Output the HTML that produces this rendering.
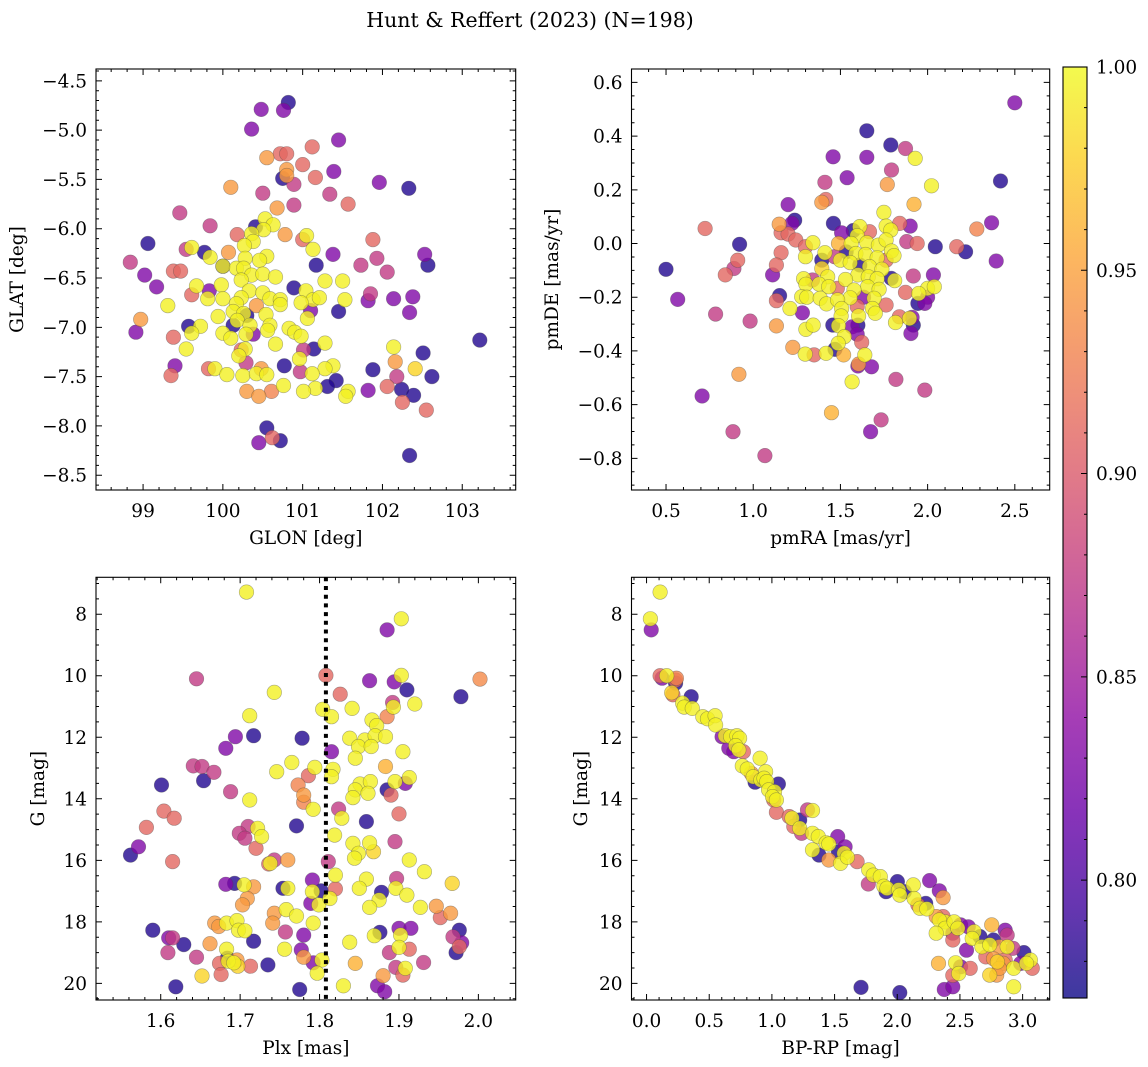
<!DOCTYPE html>
<html><head><meta charset="utf-8"><style>
html,body{margin:0;padding:0;background:#fff;}
svg{display:block;font-family:"DejaVu Serif","Liberation Serif",serif;}
</style></head><body>
<svg id="fig" width="1148" height="1067" viewBox="0 0 1148 1067" xmlns="http://www.w3.org/2000/svg">
<text x="530" y="27" text-anchor="middle" font-size="20.5">Hunt &amp; Reffert (2023) (N=198)</text>
</svg>
<script>
// probability codes: .78 dark blue, .83 purple, .875 magenta, .91 pink, .945 orange, .995 yellow
const skyPoints=[[100.82,-4.72,.78],[100.48,-4.79,.83],[100.76,-4.80,.83],[100.36,-4.99,.83],[101.12,-5.17,.91],[101.45,-5.10,.83],[100.72,-5.24,.91],[100.80,-5.24,.91],[100.55,-5.28,.945],[101.0,-5.35,.91],[100.80,-5.40,.945],[100.80,-5.46,.945],[100.75,-5.49,.78],[101.16,-5.48,.91],[101.39,-5.42,.83],[100.89,-5.55,.875],[101.96,-5.53,.83],[102.33,-5.59,.78],[100.10,-5.58,.945],[100.50,-5.64,.875],[101.34,-5.65,.875],[101.57,-5.75,.91],[100.89,-5.76,.875],[100.68,-5.79,.945],[99.46,-5.84,.875],[99.84,-5.97,.875],[100.53,-5.90,.995],[100.63,-5.96,.995],[100.41,-5.98,.78],[100.51,-6.01,.995],[100.36,-6.05,.995],[100.18,-6.06,.91],[100.78,-6.06,.945],[101.05,-6.07,.995],[101.0,-6.11,.91],[101.88,-6.11,.91],[99.06,-6.15,.78],[100.38,-6.13,.995],[99.61,-6.19,.995],[99.54,-6.21,.875],[100.27,-6.17,.995],[101.13,-6.21,.995],[99.77,-6.24,.78],[100.07,-6.24,.945],[101.38,-6.26,.83],[102.53,-6.26,.83],[99.84,-6.29,.995],[100.28,-6.30,.995],[100.55,-6.28,.995],[100.46,-6.32,.995],[101.93,-6.30,.875],[98.84,-6.34,.875],[100.0,-6.38,.78],[100.0,-6.38,.995],[101.17,-6.37,.78],[101.73,-6.37,.875],[102.57,-6.37,.78],[100.17,-6.40,.995],[100.26,-6.40,.995],[99.38,-6.43,.91],[99.47,-6.43,.91],[102.06,-6.44,.875],[99.02,-6.47,.83],[100.36,-6.47,.995],[100.50,-6.46,.995],[100.66,-6.49,.995],[100.23,-6.52,.995],[101.28,-6.53,.995],[101.50,-6.53,.995],[99.17,-6.59,.83],[99.67,-6.58,.995],[99.98,-6.57,.995],[100.89,-6.60,.78],[100.33,-6.63,.995],[100.50,-6.65,.995],[101.04,-6.63,.995],[99.61,-6.67,.91],[99.83,-6.63,.83],[99.81,-6.71,.995],[100.0,-6.71,.995],[100.23,-6.70,.995],[100.59,-6.71,.995],[100.72,-6.72,.995],[101.13,-6.72,.995],[101.21,-6.70,.995],[101.53,-6.72,.995],[101.82,-6.73,.83],[101.85,-6.66,.875],[102.14,-6.71,.83],[102.38,-6.69,.83],[99.31,-6.78,.995],[100.17,-6.76,.995],[100.42,-6.78,.945],[100.98,-6.75,.995],[100.72,-6.77,.995],[101.10,-6.83,.83],[101.45,-6.84,.78],[102.34,-6.85,.83],[100.13,-6.84,.995],[100.30,-6.88,.78],[100.26,-6.86,.995],[100.54,-6.87,.995],[99.94,-6.89,.995],[101.06,-6.91,.995],[100.18,-6.93,.995],[98.97,-6.92,.945],[100.59,-6.98,.995],[100.13,-6.98,.78],[99.57,-6.99,.78],[99.72,-6.99,.995],[100.34,-6.98,.995],[100.83,-7.01,.995],[100.90,-7.05,.995],[100.56,-7.03,.995],[100.0,-7.06,.995],[100.29,-7.07,.995],[100.38,-7.07,.83],[99.61,-7.06,.995],[98.91,-7.05,.83],[100.98,-7.09,.995],[100.10,-7.11,.995],[99.38,-7.10,.91],[103.22,-7.13,.78],[100.66,-7.17,.995],[101.28,-7.16,.995],[99.54,-7.22,.995],[100.28,-7.22,.995],[100.23,-7.23,.91],[101.01,-7.23,.875],[101.14,-7.22,.78],[102.14,-7.20,.995],[100.20,-7.29,.995],[102.51,-7.26,.78],[100.96,-7.32,.995],[100.29,-7.36,.875],[102.16,-7.35,.945],[99.40,-7.39,.83],[100.77,-7.39,.78],[101.38,-7.39,.995],[99.82,-7.42,.91],[99.90,-7.42,.995],[100.48,-7.42,.945],[101.28,-7.42,.995],[101.88,-7.43,.78],[102.41,-7.42,.98],[99.35,-7.49,.91],[100.05,-7.48,.995],[100.25,-7.49,.995],[100.42,-7.47,.995],[100.55,-7.48,.995],[100.97,-7.45,.875],[101.12,-7.47,.995],[102.18,-7.50,.875],[102.62,-7.50,.78],[101.42,-7.54,.78],[101.31,-7.60,.78],[100.76,-7.59,.995],[101.16,-7.62,.995],[102.06,-7.60,.91],[102.24,-7.63,.78],[101.82,-7.64,.83],[100.30,-7.65,.945],[100.61,-7.65,.93],[101.01,-7.65,.995],[101.57,-7.65,.995],[100.45,-7.70,.945],[101.54,-7.70,.995],[102.39,-7.69,.78],[102.25,-7.76,.91],[102.55,-7.84,.91],[100.55,-8.02,.78],[100.62,-8.12,.91],[100.72,-8.15,.78],[100.45,-8.17,.83],[102.34,-8.30,.78]];
const pmPoints=[[2.5,0.524,.83],[1.651,0.42,.78],[1.789,0.367,.78],[1.873,0.354,.875],[1.458,0.323,.83],[1.651,0.321,.83],[1.929,0.317,.995],[1.793,0.274,.875],[1.411,0.228,.875],[1.538,0.245,.83],[1.769,0.220,.945],[2.022,0.215,.995],[2.418,0.233,.78],[1.416,0.164,.91],[1.393,0.153,.945],[1.20,0.145,.83],[1.922,0.146,.96],[1.749,0.116,.995],[1.238,0.087,.78],[1.222,0.075,.83],[1.149,0.072,.945],[0.724,0.056,.91],[1.46,0.075,.78],[2.367,0.077,.83],[2.282,0.054,.93],[1.84,0.075,.91],[1.9,0.065,.83],[1.573,0.048,.78],[1.611,0.063,.995],[1.667,0.044,.91],[1.762,0.065,.995],[1.507,0.04,.83],[1.16,0.04,.91],[1.2,0.035,.91],[1.596,0.029,.995],[1.789,0.05,.995],[1.244,0.013,.91],[1.88,0.007,.875],[1.94,0.0,.91],[1.342,0.003,.995],[1.489,0.0,.96],[1.562,0.0,.995],[1.651,0.003,.995],[0.922,-0.003,.78],[1.718,-0.006,.995],[1.762,0.013,.995],[2.044,-0.012,.78],[2.167,-0.012,.91],[2.218,-0.031,.78],[1.30,-0.012,.91],[1.16,-0.034,.91],[1.30,-0.049,.995],[1.411,-0.034,.995],[1.467,-0.049,.875],[1.533,-0.031,.78],[1.589,-0.037,.995],[1.644,-0.041,.995],[1.711,-0.053,.995],[1.762,-0.062,.91],[1.793,-0.028,.995],[1.807,-0.045,.995],[0.911,-0.062,.91],[1.393,-0.062,.78],[1.5,-0.062,.995],[1.556,-0.071,.995],[2.393,-0.065,.83],[1.133,-0.08,.91],[0.5,-0.096,.78],[0.889,-0.093,.875],[1.393,-0.093,.98],[1.611,-0.08,.78],[1.667,-0.086,.995],[1.738,-0.096,.995],[0.84,-0.117,.91],[1.111,-0.117,.83],[1.427,-0.124,.995],[1.6,-0.117,.995],[1.66,-0.124,.995],[2.033,-0.117,.83],[1.918,-0.121,.875],[1.289,-0.131,.995],[1.34,-0.136,.875],[1.529,-0.134,.995],[1.711,-0.131,.995],[1.791,-0.13,.78],[1.811,-0.138,.995],[1.302,-0.152,.995],[1.378,-0.151,.995],[1.433,-0.161,.995],[1.482,-0.167,.91],[1.656,-0.161,.995],[1.578,-0.173,.995],[1.722,-0.171,.995],[2.0,-0.167,.995],[2.038,-0.161,.995],[1.873,-0.182,.91],[1.949,-0.186,.995],[2.0,-0.2,.83],[0.567,-0.208,.83],[1.151,-0.194,.78],[1.278,-0.198,.995],[1.307,-0.2,.995],[1.384,-0.204,.995],[1.556,-0.202,.995],[1.633,-0.2,.83],[1.693,-0.204,.995],[1.944,-0.223,.78],[1.984,-0.223,.83],[1.133,-0.213,.91],[1.211,-0.242,.995],[1.42,-0.225,.995],[1.484,-0.21,.995],[1.507,-0.242,.995],[1.596,-0.235,.91],[1.684,-0.242,.995],[1.762,-0.229,.91],[1.282,-0.258,.83],[0.784,-0.263,.875],[1.504,-0.27,.995],[1.604,-0.27,.995],[1.7,-0.26,.995],[1.838,-0.273,.91],[1.911,-0.275,.83],[1.896,-0.279,.995],[0.982,-0.289,.875],[1.816,-0.294,.995],[1.133,-0.307,.945],[1.302,-0.32,.995],[1.344,-0.304,.995],[1.456,-0.304,.78],[1.489,-0.306,.995],[1.567,-0.31,.83],[1.6,-0.304,.78],[1.918,-0.304,.78],[1.904,-0.335,.83],[1.596,-0.338,.83],[1.522,-0.347,.995],[1.622,-0.368,.91],[1.487,-0.372,.995],[1.227,-0.387,.945],[1.469,-0.394,.78],[1.298,-0.412,.995],[1.349,-0.415,.91],[1.418,-0.409,.995],[1.518,-0.415,.96],[1.64,-0.415,.995],[1.604,-0.449,.945],[1.6,-0.456,.83],[1.678,-0.459,.83],[1.567,-0.515,.995],[1.818,-0.506,.875],[1.984,-0.546,.875],[0.918,-0.487,.945],[0.707,-0.568,.83],[1.449,-0.63,.96],[1.733,-0.657,.875],[1.673,-0.701,.83],[0.884,-0.701,.875],[1.067,-0.79,.875]];
const plxPoints=[[1.708,7.28,.995],[1.903,8.15,.995],[1.885,8.51,.83],[1.645,10.10,.875],[1.808,9.99,.91],[1.863,10.16,.83],[1.894,10.2,.83],[1.903,9.99,.995],[1.91,10.46,.78],[2.002,10.11,.935],[1.978,10.68,.78],[1.743,10.54,.995],[1.826,10.6,.91],[1.92,10.92,.995],[1.892,10.87,.875],[1.893,11.02,.995],[1.841,11.06,.995],[1.804,11.09,.995],[1.815,11.33,.995],[1.712,11.3,.995],[1.885,11.33,.93],[1.866,11.44,.995],[1.872,11.62,.995],[1.694,11.98,.83],[1.717,11.95,.78],[1.778,12.03,.78],[1.838,12.03,.995],[1.857,12.09,.995],[1.87,11.95,.995],[1.883,11.98,.995],[1.849,12.3,.995],[1.865,12.3,.995],[1.682,12.36,.83],[1.815,12.47,.83],[1.905,12.47,.995],[1.845,12.68,.995],[1.641,12.93,.875],[1.652,12.95,.875],[1.765,12.82,.995],[1.794,12.98,.995],[1.817,13.04,.995],[1.883,12.95,.96],[1.667,13.14,.875],[1.746,13.12,.995],[1.786,13.25,.91],[1.815,13.28,.995],[1.913,13.31,.995],[1.654,13.41,.78],[1.601,13.55,.78],[1.773,13.55,.93],[1.851,13.52,.995],[1.864,13.44,.995],[1.895,13.44,.995],[1.908,13.5,.83],[1.885,13.71,.78],[1.688,13.77,.875],[1.78,13.88,.945],[1.845,13.71,.995],[1.861,13.82,.995],[1.89,13.88,.91],[1.712,14.04,.995],[1.78,14.11,.93],[1.842,13.96,.995],[1.792,14.34,.995],[1.824,14.33,.875],[1.604,14.4,.91],[1.617,14.63,.91],[1.828,14.63,.995],[1.9,14.49,.91],[1.771,14.88,.78],[1.859,14.74,.78],[1.582,14.93,.91],[1.572,15.56,.83],[1.562,15.83,.78],[1.615,16.04,.91],[1.71,14.9,.875],[1.699,15.12,.875],[1.706,15.28,.875],[1.722,14.96,.995],[1.727,15.23,.995],[1.72,15.61,.91],[1.819,15.18,.995],[1.842,15.45,.995],[1.849,15.77,.995],[1.844,15.93,.995],[1.863,15.43,.995],[1.868,15.72,.98],[1.895,15.39,.875],[1.743,15.99,.875],[1.736,16.12,.91],[1.738,16.1,.995],[1.76,15.99,.945],[1.811,16.04,.875],[1.913,15.99,.995],[1.932,16.37,.995],[1.82,16.48,.995],[1.859,16.61,.995],[1.897,16.59,.875],[1.896,16.91,.995],[1.682,16.78,.83],[1.693,16.75,.78],[1.705,16.8,.995],[1.717,16.86,.945],[1.754,16.91,.78],[1.76,16.91,.995],[1.791,16.64,.83],[1.791,17.02,.995],[1.802,16.99,.78],[1.82,16.93,.91],[1.85,16.91,.995],[1.878,17.04,.78],[1.91,17.13,.995],[1.967,16.75,.98],[1.709,17.24,.945],[1.703,17.45,.945],[1.789,17.4,.83],[1.799,17.45,.995],[1.813,17.24,.995],[1.875,17.29,.995],[1.863,17.53,.995],[1.927,17.53,.995],[1.947,17.49,.945],[1.758,17.6,.995],[1.743,17.72,.945],[1.771,17.81,.995],[1.965,17.72,.945],[1.952,17.86,.91],[1.741,18.04,.945],[1.792,18.04,.995],[1.668,18.04,.945],[1.673,18.15,.945],[1.683,18.04,.995],[1.696,17.96,.995],[1.698,18.27,.995],[1.706,18.29,.995],[1.59,18.27,.78],[1.61,18.52,.83],[1.615,18.52,.875],[1.629,18.74,.78],[1.757,18.33,.875],[1.78,18.43,.83],[1.869,18.45,.995],[1.876,18.34,.78],[1.9,18.21,.83],[1.902,18.43,.995],[1.915,18.21,.83],[1.976,18.27,.78],[1.968,18.49,.875],[1.979,18.68,.83],[1.976,18.81,.91],[1.717,18.63,.78],[1.662,18.71,.945],[1.609,19.0,.875],[1.683,18.89,.995],[1.777,18.91,.83],[1.756,18.89,.995],[1.838,18.66,.995],[1.888,19.0,.875],[1.9,18.83,.995],[1.913,18.89,.91],[1.972,19.0,.78],[1.645,19.15,.875],[1.674,19.35,.91],[1.684,19.18,.78],[1.685,19.28,.995],[1.696,19.24,.945],[1.692,19.33,.995],[1.697,19.44,.98],[1.713,19.44,.91],[1.735,19.4,.78],[1.78,19.15,.945],[1.792,19.33,.83],[1.803,19.24,.995],[1.845,19.35,.96],[1.931,19.32,.875],[1.896,19.48,.875],[1.908,19.51,.995],[1.905,19.73,.91],[1.652,19.76,.98],[1.676,19.71,.91],[1.797,19.67,.995],[1.88,19.75,.945],[1.83,20.08,.995],[1.619,20.11,.78],[1.775,20.2,.78],[1.873,20.08,.83],[1.882,20.27,.83]];
const cmdPoints=[[0.108,7.28,.995],[0.031,8.15,.995],[0.037,8.51,.83],[0.108,10.0,.91],[0.124,10.08,.83],[0.161,10.0,.995],[0.232,10.14,.91],[0.232,10.24,.78],[0.238,10.08,.93],[0.201,10.55,.98],[0.21,10.62,.91],[0.356,10.68,.78],[0.288,10.89,.995],[0.3,11.02,.995],[0.365,11.06,.995],[0.449,11.33,.995],[0.486,11.4,.995],[0.547,11.3,.995],[0.551,11.6,.995],[0.603,11.98,.83],[0.628,11.95,.995],[0.671,11.98,.995],[0.721,11.95,.995],[0.742,12.03,.995],[0.656,12.36,.83],[0.696,12.47,.83],[0.773,12.47,.91],[0.711,12.27,.995],[0.736,12.41,.995],[0.906,12.68,.995],[0.764,12.93,.995],[0.804,13.03,.995],[0.835,13.17,.945],[0.851,13.28,.995],[0.912,13.39,.995],[0.95,13.12,.995],[0.866,13.46,.78],[0.937,13.33,.995],[0.959,13.44,.995],[1.052,13.52,.78],[0.974,13.71,.995],[1.021,13.77,.995],[1.014,14.04,.91],[1.005,13.93,.995],[1.036,14.04,.995],[1.036,14.44,.91],[1.138,14.58,.91],[1.16,14.63,.995],[1.222,14.69,.78],[1.284,14.36,.875],[1.324,14.38,.995],[1.175,14.9,.91],[1.222,14.96,.995],[1.237,15.12,.875],[1.324,15.12,.995],[1.37,15.23,.995],[1.432,15.43,.995],[1.525,15.23,.83],[1.454,15.47,.995],[1.324,15.66,.995],[1.376,15.83,.78],[1.531,15.72,.78],[1.584,15.56,.83],[1.577,15.77,.995],[1.454,15.99,.945],[1.547,16.1,.995],[1.602,15.9,.995],[1.68,16.04,.91],[1.772,16.31,.995],[1.809,16.48,.995],[1.769,16.77,.875],[1.865,16.53,.995],[1.893,16.84,.995],[1.911,17.02,.78],[2.001,16.69,.78],[1.918,16.91,.995],[2.011,16.96,.995],[2.057,17.02,.78],[2.02,17.13,.995],[2.128,16.8,.995],[2.258,16.66,.83],[2.335,16.99,.83],[2.366,17.21,.945],[2.134,17.24,.995],[2.165,17.45,.91],[2.227,17.4,.78],[2.181,17.56,.995],[2.236,17.58,.995],[2.311,17.83,.945],[2.366,17.83,.91],[2.382,18.0,.995],[2.335,17.94,.995],[2.382,18.21,.995],[2.453,18.0,.995],[2.505,18.1,.83],[2.443,18.37,.83],[2.483,18.21,.995],[2.567,18.16,.83],[2.613,18.32,.995],[2.443,18.59,.91],[2.598,18.54,.995],[2.66,18.48,.78],[2.311,18.37,.995],[2.753,18.1,.96],[2.861,18.27,.83],[2.877,18.43,.875],[2.768,18.59,.78],[2.675,18.81,.995],[2.737,18.75,.995],[2.815,18.81,.945],[2.877,18.81,.995],[2.923,18.86,.875],[2.552,18.92,.83],[2.706,19.14,.91],[2.768,19.2,.945],[2.799,19.3,.98],[2.846,19.35,.945],[2.861,19.24,.91],[3.01,19.0,.78],[3.062,19.24,.995],[3.077,19.51,.91],[2.985,19.35,.83],[2.929,19.51,.995],[3.031,19.35,.995],[2.793,19.73,.945],[2.737,19.73,.98],[2.815,19.51,.945],[2.929,20.11,.995],[2.329,19.35,.96],[2.465,19.33,.995],[2.49,19.68,.995],[2.443,19.74,.91],[2.582,19.51,.91],[2.505,19.46,.83],[1.711,20.13,.78],[2.02,20.3,.78],[2.375,20.2,.83],[2.443,20.11,.83]];
const plxMedian=[1.808];
const cbarTicks=[0.80,0.85,0.90,0.95,1.00];
const cbarRange=[0.771,1.0];

const plasma=[[13,8,135],[65,4,157],[106,0,168],[143,13,164],[177,42,144],[204,71,120],[225,100,98],[242,132,75],[252,166,54],[252,206,37],[240,249,33]];
function cmap(t){t=Math.max(0,Math.min(1,t));const f=t*10,i=Math.min(9,Math.floor(f)),u=f-i;const a=plasma[i],b=plasma[i+1];return 'rgb('+[0,1,2].map(k=>Math.round(a[k]+(b[k]-a[k])*u)).join(',')+')';}
function pcol(p){return cmap((p-cbarRange[0])/(cbarRange[1]-cbarRange[0]));}
const svg=document.getElementById('fig');const NS='http://www.w3.org/2000/svg';
function mk(tag,attrs,parent){const e=document.createElementNS(NS,tag);for(const k in attrs)e.setAttribute(k,attrs[k]);(parent||svg).appendChild(e);return e;}
function fmt(v,d){let s=v.toFixed(d);if(v<0)s='\u2212'+s.slice(1);return s;}
const FS=18.5;

const panels=[
 {name:'sky',box:[96,69,515.7,490],xr:[98.41,103.67],yr:[-8.65,-4.38],inv:false,pts:skyPoints,xt:[99,100,101,102,103],xd:0,xm:0.2,yt:[-8.5,-8,-7.5,-7,-6.5,-6,-5.5,-5,-4.5],yd:1,ym:0.1,xl:'GLON [deg]',yl:'GLAT [deg]',ylx:18},
 {name:'pm',box:[631.5,69,1049.7,490],xr:[0.302,2.70],yr:[-0.918,0.65],inv:false,pts:pmPoints,xt:[0.5,1,1.5,2,2.5],xd:1,xm:0.1,yt:[-0.8,-0.6,-0.4,-0.2,0,0.2,0.4,0.6],yd:1,ym:0.05,xl:'pmRA [mas/yr]',yl:'pmDE [mas/yr]',ylx:553},
 {name:'plx',box:[96,577.3,515.7,1000],xr:[1.5185,2.047],yr:[6.8,20.54],inv:true,pts:plxPoints,xt:[1.6,1.7,1.8,1.9,2.0],xd:1,xm:0.02,yt:[8,10,12,14,16,18,20],yd:0,ym:0.5,xl:'Plx [mas]',yl:'G [mag]',ylx:39},
 {name:'cmd',box:[631.5,577.3,1049.7,1000],xr:[-0.12,3.216],yr:[6.8,20.54],inv:true,pts:cmdPoints,xt:[0,0.5,1,1.5,2,2.5,3],xd:1,xm:0.1,yt:[8,10,12,14,16,18,20],yd:0,ym:0.5,xl:'BP-RP [mag]',yl:'G [mag]',ylx:582}
];
panels.forEach(P=>{
 const [L,T,R,B]=P.box;
 const sx=v=>L+(v-P.xr[0])/(P.xr[1]-P.xr[0])*(R-L);
 const sy=P.inv?(v=>T+(v-P.yr[0])/(P.yr[1]-P.yr[0])*(B-T)):(v=>B-(v-P.yr[0])/(P.yr[1]-P.yr[0])*(B-T));
 const g=mk('g',{});
 
 
 const cid='clip-'+P.name;const cp=mk('clipPath',{id:cid},g);mk('rect',{x:L,y:T,width:R-L,height:B-T},cp);
 const pg=mk('g',{'clip-path':'url(#'+cid+')'},g);
 
 
 const sorted=P.pts.slice().sort((a,b)=>a[2]-b[2]);
 sorted.forEach(d=>{const c=mk('circle',{cx:sx(d[0]).toFixed(1),cy:sy(d[1]).toFixed(1),r:7.3,fill:pcol(d[2]),'fill-opacity':0.8,stroke:'rgba(70,70,70,0.45)','stroke-width':0.6},pg);
  
  });
 if(P.name==='plx'){const ln=mk('line',{x1:sx(plxMedian[0]),x2:sx(plxMedian[0]),y1:T,y2:B,stroke:'#000','stroke-width':4,'stroke-dasharray':'4 4.7'},pg);
  
  }
 mk('rect',{x:L,y:T,width:R-L,height:B-T,fill:'none',stroke:'#000','stroke-width':1.1},g);
 let tp='';
 P.xt.forEach(v=>{const x=sx(v);tp+=`M${x},${B}v-6M${x},${T}v6`;});
 P.yt.forEach(v=>{const y=sy(v);tp+=`M${L},${y}h6M${R},${y}h-6`;});
 for(let v=Math.ceil(P.xr[0]/P.xm)*P.xm;v<=P.xr[1];v+=P.xm){const x=sx(v);tp+=`M${x},${B}v-3M${x},${T}v3`;}
 for(let v=Math.ceil(P.yr[0]/P.ym)*P.ym;v<=P.yr[1];v+=P.ym){const y=sy(v);tp+=`M${L},${y}h3M${R},${y}h-3`;}
 mk('path',{d:tp,stroke:'#000','stroke-width':1,fill:'none'},g);
 P.xt.forEach(v=>{const t=mk('text',{x:sx(v),y:B+27,'text-anchor':'middle','font-size':FS},g);t.textContent=fmt(v,P.xd);
  
  });
 P.yt.forEach(v=>{const t=mk('text',{x:L-9,y:sy(v)+6.5,'text-anchor':'end','font-size':FS},g);t.textContent=fmt(v,P.yd);
  
  });
 const xl=mk('text',{x:(L+R)/2,y:B+54,'text-anchor':'middle','font-size':FS},g);xl.textContent=P.xl;
 
 
 const cy=(T+B)/2;const yl=mk('text',{x:P.ylx,y:cy,'text-anchor':'middle','dominant-baseline':'middle','font-size':FS,transform:`rotate(-90 ${P.ylx} ${cy})`},g);yl.textContent=P.yl;
 
 
});
(function(){
 const L=1063,R=1087,T=67,B=998;
 const g=mk('g',{});
 
 
 const defs=mk('defs',{},g);const lg=mk('linearGradient',{id:'cbg',x1:0,y1:1,x2:0,y2:0},defs);
 for(let i=0;i<=20;i++){mk('stop',{offset:i/20,'stop-color':cmap(i/20)},lg);}
 mk('rect',{x:L,y:T,width:R-L,height:B-T,fill:'url(#cbg)','fill-opacity':0.8},g);
 mk('rect',{x:L,y:T,width:R-L,height:B-T,fill:'none',stroke:'#000','stroke-width':1.1},g);
 const sy=v=>B-(v-cbarRange[0])/(cbarRange[1]-cbarRange[0])*(B-T);
 let tp='';
 cbarTicks.forEach(v=>{tp+=`M${R},${sy(v)}h-6`;});
 for(let v=0.78;v<=1.0001;v+=0.01){tp+=`M${R},${sy(v)}h-3`;}
 mk('path',{d:tp,stroke:'#000','stroke-width':1},g);
 cbarTicks.forEach(v=>{const t=mk('text',{x:R+9,y:sy(v)+6.5,'font-size':FS},g);t.textContent=v.toFixed(2);
  
  });
})();
</script>
</body></html>
